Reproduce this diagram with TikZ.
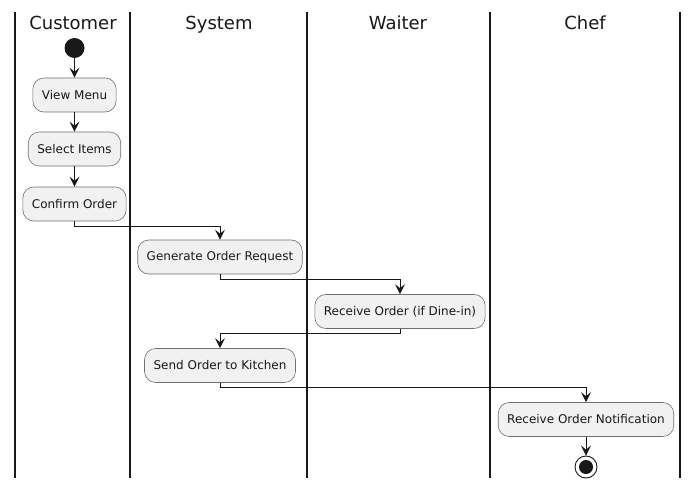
\documentclass[tikz,border=0pt]{standalone}
\usepackage{fontspec}
\setmainfont{DejaVu Sans}
\usetikzlibrary{arrows.meta}
\definecolor{ink}{HTML}{181818}
\definecolor{actfill}{HTML}{F1F1F1}
\definecolor{actline}{HTML}{707070}
\begin{document}
\begin{tikzpicture}[x=1pt,y=-1pt,
  lane/.style={line width=1.4pt, draw=ink},
  header/.style={font=\fontsize{18}{21}\selectfont, text=ink, anchor=base, inner sep=0pt},
  act/.style={draw=actline, fill=actfill, rounded corners=11pt, line width=0.6pt,
    minimum height=34pt, inner xsep=9pt, font=\fontsize{12}{14}\selectfont, text=ink},
  flow/.style={draw=ink, line width=0.9pt, -{Stealth[length=10pt,width=10pt,inset=4pt]}},
  startdot/.style={circle, fill=ink, draw=none, minimum size=20pt, inner sep=0pt},
]
\useasboundingbox (0,0) rectangle (698,489);
% swimlanes
\foreach \x in {15,130,307,490,680} \draw[lane] (\x,12) -- (\x,478);
\node[header] (hc) at (73,29.5) {Customer};
\node[header] (hs) at (219,29.5) {System};
\node[header] (hw) at (398,29.5) {Waiter};
\node[header] (hf) at (585,29.5) {Chef};
% start
\node[startdot] (start) at (74.5,48) {};
% activities
\node[act] (view) at (74.5,95) {View Menu};
\node[act] (sel) at (74.5,149) {Select Items};
\node[act] (conf) at (74.5,204) {Confirm Order};
\node[act] (gen) at (220,257) {Generate Order Request};
\node[act] (recv) at (400,311.5) {Receive Order (if Dine-in)};
\node[act] (send) at (220,365.5) {Send Order to Kitchen};
\node[act] (notif) at (586,419.5) {Receive Order Notification};
% end
\node[circle, draw=ink, fill=white, line width=0.9pt, minimum size=22pt, inner sep=0pt] (endo) at (586,467) {};
\node[circle, fill=ink, minimum size=14pt, inner sep=0pt] (endi) at (endo.center) {};
% flows
\draw[flow] (start) -- (view);
\draw[flow] (view) -- (sel);
\draw[flow] (sel) -- (conf);
\coordinate (c1) at (74.5,226);
\coordinate (c2) at (220,226);
\draw[flow] (conf.south) -- (c1) -- (c2) -- (gen.north);
\coordinate (c3) at (220,279);
\coordinate (c4) at (400,279);
\draw[flow] (gen.south) -- (c3) -- (c4) -- (recv.north);
\coordinate (c5) at (400,333);
\coordinate (c6) at (220,333);
\draw[flow] (recv.south) -- (c5) -- (c6) -- (send.north);
\coordinate (c7) at (220,387);
\coordinate (c8) at (586,387);
\draw[flow] (send.south) -- (c7) -- (c8) -- (notif.north);
\draw[flow] (notif) -- (endo);
\end{tikzpicture}
\end{document}
